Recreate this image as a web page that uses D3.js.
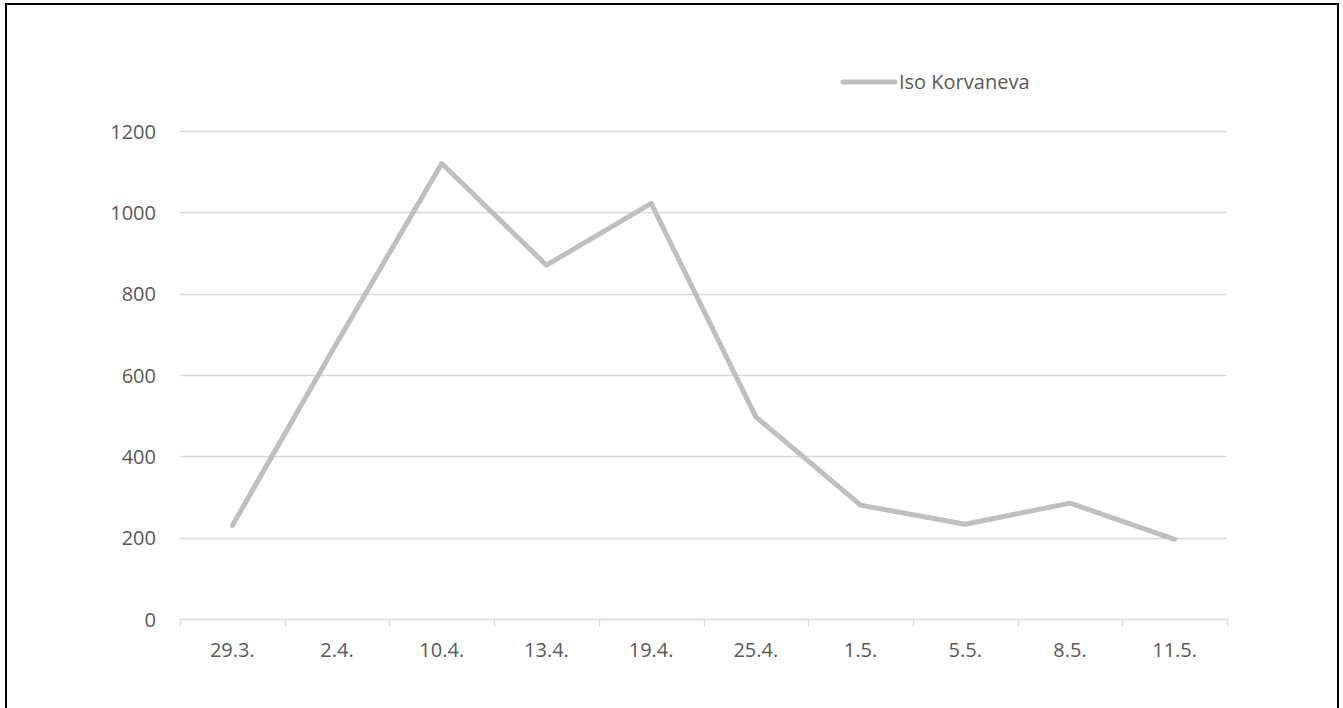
<!DOCTYPE html>
<html>
<head>
<meta charset="utf-8">
<script src="https://cdn.jsdelivr.net/npm/d3@7"></script>
<style>
  html, body { margin: 0; padding: 0; background: #fff; }
  svg { display: block; }
  text { font-family: "Open Sans", "Noto Sans", sans-serif; fill: #595959; }
</style>
</head>
<body>
<svg id="chart" width="1343" height="708"></svg>
<script>
// Dates of the counts and the observed values for Iso Korvaneva
const categories = ["29.3.", "2.4.", "10.4.", "13.4.", "19.4.", "25.4.", "1.5.", "5.5.", "8.5.", "11.5."];
const seriesName = "Iso Korvaneva";
const values = [230, 680, 1120, 870, 1022, 497, 280, 233, 285, 196];
const yTicks = [0, 200, 400, 600, 800, 1000, 1200];

const FONT_SIZE = 20;
const svg = d3.select("#chart");

// outer frame
svg.append("rect")
  .attr("x", 6).attr("y", 4)
  .attr("width", 1332).attr("height", 720)
  .attr("fill", "none").attr("stroke", "#000").attr("stroke-width", 2);

const plot = { left: 180, right: 1227, top: 131, bottom: 619 };

const x = d3.scaleBand()
  .domain(categories)
  .range([plot.left, plot.right])
  .padding(0);

const y = d3.scaleLinear()
  .domain([0, 1200])
  .range([plot.bottom, plot.top]);

// horizontal gridlines
svg.append("g")
  .selectAll("line")
  .data(yTicks.filter(d => d > 0))
  .join("line")
  .attr("x1", plot.left).attr("x2", plot.right)
  .attr("y1", d => Math.round(y(d)) + 0.5).attr("y2", d => Math.round(y(d)) + 0.5)
  .attr("stroke", "#d9d9d9").attr("stroke-width", 1.3);

// y axis labels
const yAxis = d3.axisLeft(y).tickValues(yTicks).tickFormat(d3.format("d")).tickSize(0).tickPadding(0);
const gy = svg.append("g")
  .attr("transform", `translate(${156},0)`)
  .call(yAxis);
gy.select(".domain").remove();
gy.selectAll("text")
  .attr("font-size", FONT_SIZE)
  .attr("dy", "0.35em")
  .style("font-family", "'Open Sans', sans-serif")
  .attr("fill", "#595959");

// x axis with tick marks at category boundaries
const gx = svg.append("g")
  .attr("transform", `translate(0,${Math.round(y(0)) + 0.5})`);
gx.append("line")
  .attr("x1", plot.left).attr("x2", plot.right)
  .attr("stroke", "#d9d9d9").attr("stroke-width", 1.3);
const boundaries = categories.map(c => x(c)).concat([x(categories[categories.length - 1]) + x.bandwidth()]);
gx.selectAll("line.tick")
  .data(boundaries)
  .join("line")
  .attr("class", "tick")
  .attr("x1", d => Math.round(d) + 0.5).attr("x2", d => Math.round(d) + 0.5)
  .attr("y1", 0).attr("y2", 7)
  .attr("stroke", "#d9d9d9").attr("stroke-width", 1.3);
gx.selectAll("text")
  .data(categories)
  .join("text")
  .attr("x", d => x(d) + x.bandwidth() / 2)
  .attr("y", 37)
  .attr("text-anchor", "middle")
  .attr("font-size", FONT_SIZE)
  .text(d => d);

// the data line
const line = d3.line()
  .x((d, i) => x(categories[i]) + x.bandwidth() / 2)
  .y(d => y(d));

svg.append("path")
  .datum(values)
  .attr("d", line)
  .attr("fill", "none")
  .attr("stroke", "#bfbfbf")
  .attr("stroke-width", 5)
  .attr("stroke-linejoin", "round")
  .attr("stroke-linecap", "round");

// legend
const lg = svg.append("g").attr("transform", "translate(843,82)");
lg.append("line")
  .attr("x1", 0).attr("x2", 52)
  .attr("stroke", "#bfbfbf").attr("stroke-width", 5)
  .attr("stroke-linecap", "round");
lg.append("text")
  .attr("x", 56).attr("y", 0).attr("dy", "0.35em")
  .attr("font-size", FONT_SIZE)
  .text(seriesName);
</script>
</body>
</html>
